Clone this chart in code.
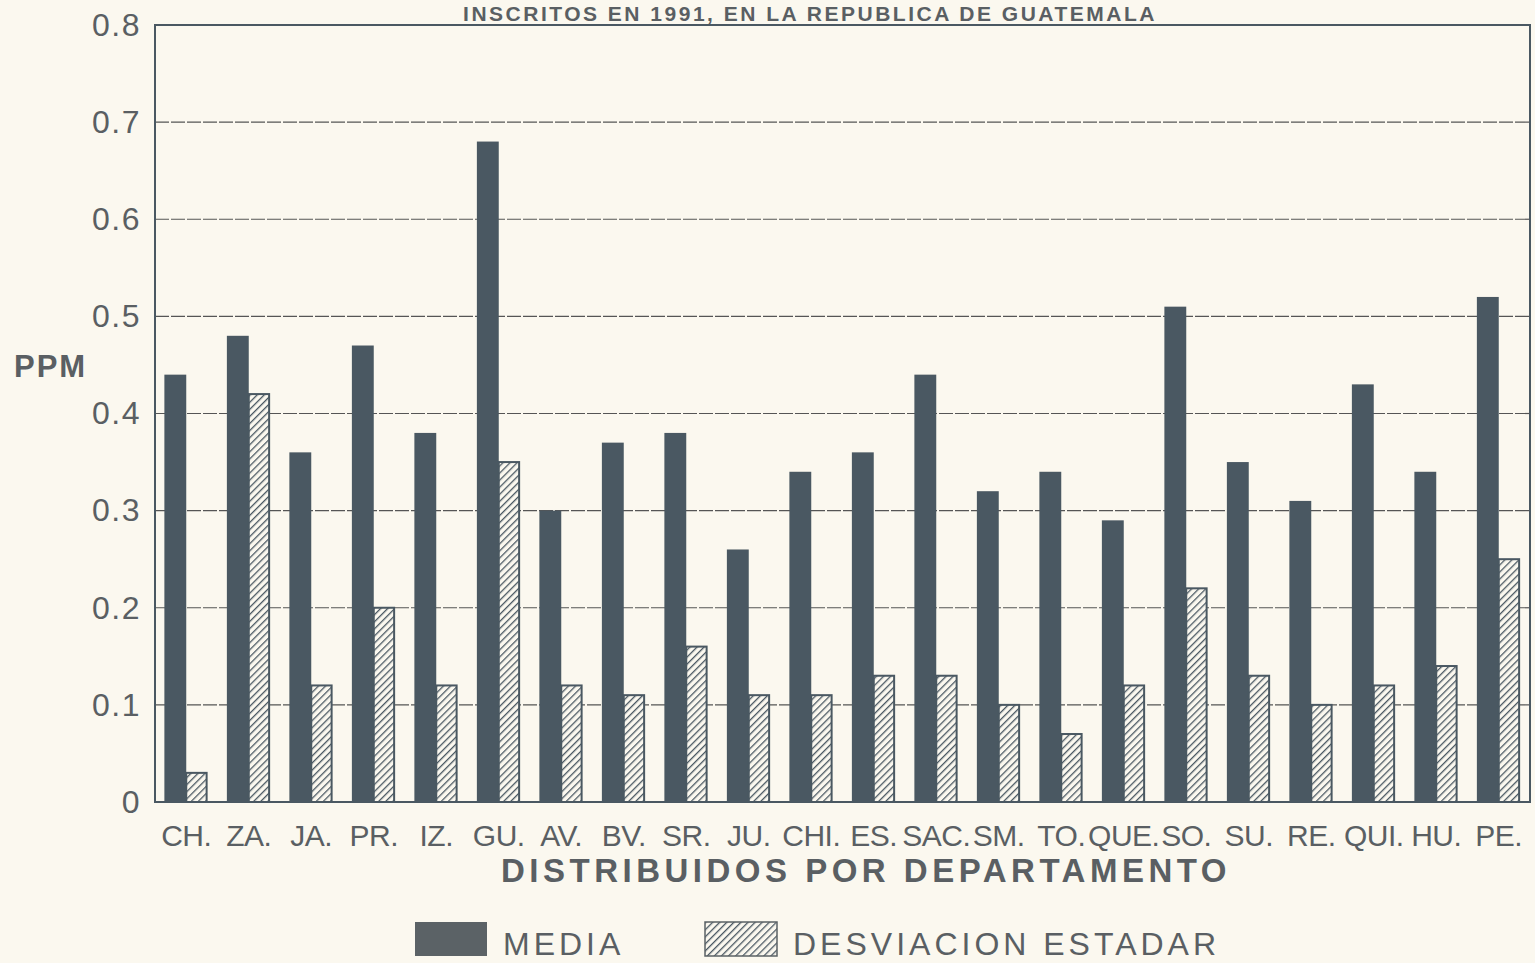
<!DOCTYPE html>
<html>
<head>
<meta charset="utf-8">
<script src="https://cdn.jsdelivr.net/npm/d3@7"></script>
<style>
  body { margin: 0; background: #fbf8ef; }
  svg { display: block; }
</style>
</head>
<body>
<div id="chart"></div>
<script>
const departamentos = ['CH.', 'ZA.', 'JA.', 'PR.', 'IZ.', 'GU.', 'AV.', 'BV.', 'SR.', 'JU.', 'CHI.',
  'ES.', 'SAC.', 'SM.', 'TO.', 'QUE.', 'SO.', 'SU.', 'RE.', 'QUI.', 'HU.', 'PE.']

const media = [0.44, 0.48, 0.36, 0.47, 0.38, 0.68, 0.30, 0.37, 0.38, 0.26, 0.34,
  0.36, 0.44, 0.32, 0.34, 0.29, 0.51, 0.35, 0.31, 0.43, 0.34, 0.52]

const desviacion = [0.03, 0.42, 0.12, 0.20, 0.12, 0.35, 0.12, 0.11, 0.16, 0.11, 0.11,
  0.13, 0.13, 0.10, 0.07, 0.12, 0.22, 0.13, 0.10, 0.12, 0.14, 0.25]

const yTicks = [0, 0.1, 0.2, 0.3, 0.4, 0.5, 0.6, 0.7, 0.8]

const series = ['media', 'desv']
const seriesLabels = ['MEDIA', 'DESVIACION ESTADAR']

const margin = { top: 25, left: 155, right: 5, bottom: 161 }
const width = 1535
const height = 963

const ink = '#4a5862'
const textColor = '#5a5f63'

const svg = d3
  .select('#chart')
  .append('svg')
  .attr('width', width)
  .attr('height', height)

const defs = svg.append('defs')
const hatch = defs
  .append('pattern')
  .attr('id', 'hatch')
  .attr('patternUnits', 'userSpaceOnUse')
  .attr('width', 5)
  .attr('height', 5)
  .attr('patternTransform', 'rotate(45)')
hatch.append('rect').attr('width', 5).attr('height', 5).attr('fill', '#fbf8ef')
hatch
  .append('line')
  .attr('x1', 0)
  .attr('y1', 0)
  .attr('x2', 0)
  .attr('y2', 5)
  .attr('stroke', ink)
  .attr('stroke-width', 2.6)

const x0 = d3
  .scaleBand()
  .domain(departamentos)
  .range([margin.left, width - margin.right])
  .paddingInner(0.3)
  .paddingOuter(0.15)

const x1 = d3
  .scaleBand()
  .domain(series)
  .range([0, x0.bandwidth()])

const y = d3
  .scaleLinear()
  .domain([0, 0.8])
  .range([height - margin.bottom, margin.top])

// title at the top edge of the scan
svg
  .append('text')
  .attr('x', 810)
  .attr('y', 21)
  .attr('text-anchor', 'middle')
  .attr('font-family', 'Liberation Sans, Arial, sans-serif')
  .attr('font-weight', 700)
  .attr('font-size', 21)
  .attr('letter-spacing', 2.5)
  .attr('fill', textColor)
  .text('INSCRITOS EN 1991, EN LA REPUBLICA DE GUATEMALA')

// grid lines
svg
  .selectAll('.grid')
  .data(yTicks.filter(d => d > 0 && d < 0.8))
  .enter()
  .append('line')
  .attr('class', 'grid')
  .attr('x1', margin.left)
  .attr('x2', width - margin.right)
  .attr('y1', d => y(d))
  .attr('y2', d => y(d))
  .attr('stroke', '#555')
  .attr('stroke-width', 1.2)
  .attr('stroke-dasharray', '14 2')

// y axis
const yAxis = svg
  .append('g')
  .attr('transform', 'translate(' + margin.left + ',0)')
  .call(
    d3
      .axisLeft(y)
      .tickValues(yTicks)
      .tickSize(0)
      .tickPadding(14)
      .tickFormat(d => (d === 0 ? '0' : d3.format('.1f')(d)))
  )
yAxis.select('.domain').remove()
yAxis
  .selectAll('text')
  .attr('font-family', 'Liberation Sans, Arial, sans-serif')
  .attr('font-size', 32)
  .attr('letter-spacing', 1.5)
  .attr('fill', textColor)

svg
  .append('text')
  .attr('x', 14)
  .attr('y', 377)
  .attr('font-family', 'Liberation Sans, Arial, sans-serif')
  .attr('font-weight', 700)
  .attr('font-size', 31)
  .attr('letter-spacing', 2)
  .attr('fill', textColor)
  .text('PPM')

// bars
const groups = svg
  .selectAll('.group')
  .data(departamentos)
  .enter()
  .append('g')
  .attr('class', 'group')
  .attr('transform', d => 'translate(' + x0(d) + ',0)')

groups
  .append('rect')
  .attr('x', x1('media'))
  .attr('width', x1.bandwidth())
  .attr('y', (d, i) => y(media[i]))
  .attr('height', (d, i) => y(0) - y(media[i]))
  .attr('fill', ink)

groups
  .append('rect')
  .attr('x', x1('desv'))
  .attr('width', x1.bandwidth() - 1.5)
  .attr('y', (d, i) => y(desviacion[i]))
  .attr('height', (d, i) => y(0) - y(desviacion[i]))
  .attr('fill', 'url(#hatch)')
  .attr('stroke', ink)
  .attr('stroke-width', 2)

// frame
svg
  .append('rect')
  .attr('x', margin.left)
  .attr('y', margin.top)
  .attr('width', width - margin.left - margin.right)
  .attr('height', y(0) - margin.top)
  .attr('fill', 'none')
  .attr('stroke', ink)
  .attr('stroke-width', 2)

// x labels
svg
  .selectAll('.xlabel')
  .data(departamentos)
  .enter()
  .append('text')
  .attr('class', 'xlabel')
  .attr('x', d => x0(d) + x0.bandwidth() / 2)
  .attr('y', 846)
  .attr('text-anchor', 'middle')
  .attr('font-family', 'Liberation Sans Narrow, Arial Narrow, sans-serif')
  .attr('font-size', 30)
  .attr('letter-spacing', -0.5)
  .attr('fill', textColor)
  .text(d => d)

svg
  .append('text')
  .attr('x', 866)
  .attr('y', 882)
  .attr('text-anchor', 'middle')
  .attr('font-family', 'Liberation Sans, Arial, sans-serif')
  .attr('font-weight', 700)
  .attr('font-size', 33)
  .attr('letter-spacing', 4.5)
  .attr('fill', textColor)
  .text('DISTRIBUIDOS POR DEPARTAMENTO')

// legend
const legendX = [415, 705]
const legend = svg
  .selectAll('.legend')
  .data(series)
  .enter()
  .append('g')
  .attr('class', 'legend')
  .attr('transform', (d, i) => 'translate(' + legendX[i] + ',922)')

legend
  .append('rect')
  .attr('width', 72)
  .attr('height', 34)
  .attr('fill', d => (d === 'media' ? '#5b6266' : 'url(#hatch)'))
  .attr('stroke', d => (d === 'media' ? 'none' : '#5b6266'))
  .attr('stroke-width', 1.5)

legend
  .append('text')
  .attr('x', 88)
  .attr('y', 33)
  .attr('font-family', 'Liberation Sans, Arial, sans-serif')
  .attr('font-size', 32)
  .attr('letter-spacing', 4)
  .attr('fill', textColor)
  .text((d, i) => seriesLabels[i])
</script>
</body>
</html>
